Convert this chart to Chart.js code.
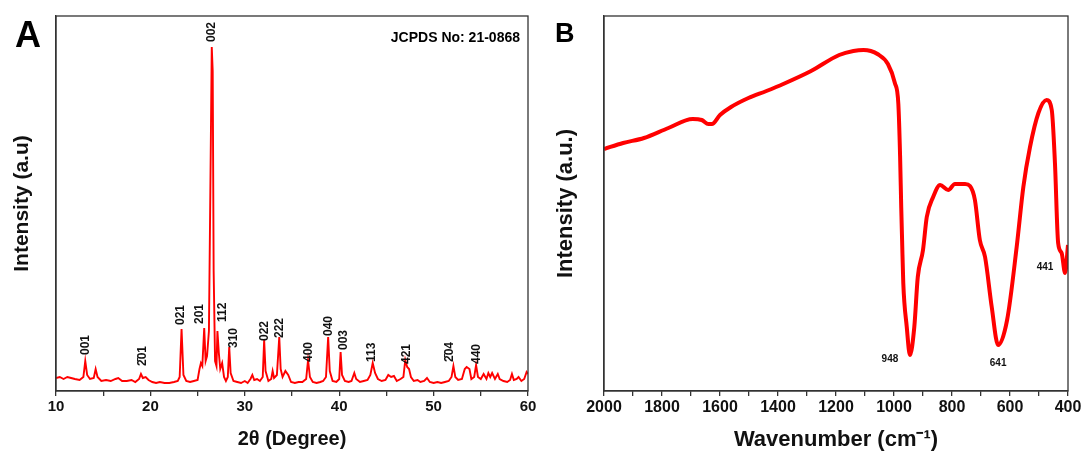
<!DOCTYPE html>
<html>
<head>
<meta charset="utf-8">
<script src="https://cdn.jsdelivr.net/npm/chart.js@4.4.1/dist/chart.umd.min.js"></script>
<style>
  body { margin: 0; background: #fff; width: 1086px; height: 464px; position: relative; overflow: hidden; }
  #boxA { position: absolute; left: 0; top: 0; width: 540px; height: 464px; }
  #boxB { position: absolute; left: 540px; top: 0; width: 546px; height: 464px; }
</style>
</head>
<body>
<div id="boxA"><canvas id="xrdChart" width="540" height="464"></canvas></div>
<div id="boxB"><canvas id="ftirChart" width="546" height="464"></canvas></div>
<script>
// ---- panel A : XRD pattern ----
const xrdTheta = [
  10.0, 10.4, 10.8, 11.2, 11.6, 12.0, 12.5, 12.9, 13.1, 13.3,
  13.6, 14.0, 14.2, 14.4, 14.8, 15.3, 15.8, 16.3, 16.6, 17.0,
  17.5, 18.0, 18.4, 18.8, 19.0, 19.2, 19.5, 19.8, 20.2, 20.6,
  21.0, 21.5, 22.0, 22.5, 22.9, 23.1, 23.3, 23.5, 23.8, 24.2,
  24.6, 25.0, 25.2, 25.35, 25.5, 25.7, 25.85, 26.0, 26.2, 26.35,
  26.5, 26.6, 26.7, 26.85, 27.0, 27.1, 27.25, 27.4, 27.6, 27.8,
  28.0, 28.2, 28.35, 28.5, 28.8, 29.2, 29.6, 30.0, 30.3, 30.6,
  30.8, 31.0, 31.3, 31.6, 31.9, 32.05, 32.2, 32.5, 32.8, 32.95,
  33.1, 33.4, 33.65, 33.8, 34.0, 34.3, 34.6, 34.9, 35.3, 35.7,
  36.1, 36.5, 36.7, 36.9, 37.2, 37.6, 38.0, 38.3, 38.6, 38.83,
  39.0, 39.3, 39.7, 40.0, 40.15, 40.3, 40.6, 41.0, 41.3, 41.6,
  41.8, 42.2, 42.6, 43.0, 43.3, 43.55, 43.8, 44.1, 44.5, 44.9,
  45.2, 45.5, 45.8, 46.1, 46.5, 46.8, 47.0, 47.2, 47.4, 47.6,
  47.9, 48.3, 48.6, 49.0, 49.3, 49.6, 50.0, 50.4, 50.8, 51.2,
  51.6, 51.9, 52.1, 52.3, 52.6, 53.0, 53.3, 53.5, 53.8, 54.0,
  54.3, 54.5, 54.7, 55.0, 55.3, 55.6, 55.8, 56.0, 56.2, 56.5,
  56.8, 57.0, 57.4, 57.8, 58.1, 58.3, 58.5, 58.8, 59.0, 59.3,
  59.6, 59.85, 60.0
];
const xrdIntensity = [
  13, 14, 12, 14, 13, 12, 11, 14, 30, 16,
  12, 13, 22, 14, 10, 11, 10, 12, 13, 10,
  10, 11, 9, 12, 17, 13, 14, 11, 9, 8,
  9, 8, 8, 9, 10, 14, 62, 16, 10, 9,
  10, 11, 22, 28, 25, 63, 30, 35, 60, 200,
  344, 320, 120, 30, 25, 60, 38, 22, 28, 14,
  10, 14, 44, 18, 10, 9, 8, 10, 8, 12,
  16, 11, 12, 10, 14, 51, 20, 10, 12, 20,
  13, 16, 54, 22, 14, 20, 16, 9, 8, 9,
  9, 12, 31, 14, 9, 8, 9, 10, 14, 54,
  20, 10, 9, 12, 39, 16, 10, 9, 10, 18,
  12, 9, 10, 11, 16, 28, 18, 12, 10, 11,
  16, 14, 15, 10, 12, 14, 31, 24, 22, 14,
  10, 11, 9, 10, 13, 9, 8, 9, 8, 9,
  10, 14, 25, 14, 11, 12, 22, 24, 22, 12,
  14, 26, 14, 12, 17, 12, 18, 14, 18, 12,
  17, 12, 10, 9, 11, 17, 11, 12, 14, 10,
  12, 19, 17
];
const hklText  = ['001', '2\u030401', '021', '201', '002', '112', '310', '022', '222', '400', '040', '003', '113', '421', '2\u030404', '440'];
const hklTheta = [13.18, 19.2, 23.24, 25.25, 26.5, 27.7, 28.85, 32.14, 33.73, 36.8, 38.9, 40.5, 43.47, 47.2, 51.74, 54.6];
const hklLevel = [36, 25, 66, 67, 349, 69, 43, 50, 53, 29, 55, 41, 29, 27, 29, 27];

// ---- panel B : FTIR spectrum ----
const ftirWave = [
  2000, 1934, 1862, 1778, 1694, 1663, 1640, 1628, 1600, 1562,
  1502, 1440, 1382, 1286, 1189, 1140, 1105, 1080, 1057, 1021,
  997, 985, 979, 975, 972, 968, 956, 945, 930, 918,
  900, 887, 865, 841, 813, 790, 755, 738, 721, 704,
  686, 663, 641, 610, 577, 554, 531, 502, 474, 456,
  445, 434, 422, 410, 400
];
const ftirSignal = [
  242, 248, 253, 263, 272, 271, 267, 267, 276, 284,
  293, 300, 307, 320, 336, 340, 341, 340, 337, 327,
  308, 287, 235, 183, 150, 108, 64, 36, 64, 114,
  141, 174, 194, 206, 201, 207, 207, 205, 191, 151,
  134, 84, 46, 71, 144, 204, 244, 278, 291, 281,
  228, 148, 138, 118, 146
];
const bandText = ['948', '641', '441'];
const bandWave = [1014, 641, 479];
const bandLevel = [32, 28, 124];

const FONT = '"Liberation Sans", Arial, sans-serif';
const AXIS = '#333';

const framePlugin = {
  id: 'frame',
  afterDraw(chart) {
    const { ctx, chartArea: a } = chart;
    ctx.save();
    ctx.strokeStyle = AXIS;
    ctx.lineWidth = 1.3;
    ctx.strokeRect(a.left, a.top, a.right - a.left, a.bottom - a.top);
    ctx.restore();
  }
};

function labelPlugin(id, texts, xs, ys, font, rotate) {
  return {
    id: id,
    afterDatasetsDraw(chart) {
      const { ctx, scales } = chart;
      ctx.save();
      ctx.fillStyle = '#111';
      ctx.font = font;
      texts.forEach((t, i) => {
        const px = scales.x.getPixelForValue(xs[i]);
        const py = scales.y.getPixelForValue(ys[i]);
        ctx.save();
        ctx.translate(px, py);
        if (rotate) {
          ctx.rotate(-Math.PI / 2);
          ctx.textAlign = 'left';
        } else {
          ctx.textAlign = 'center';
        }
        ctx.textBaseline = 'middle';
        ctx.fillText(t, 0, 0);
        ctx.restore();
      });
      ctx.restore();
    }
  };
}

function cornerText(id, items) {
  return {
    id: id,
    afterDraw(chart) {
      const ctx = chart.ctx;
      ctx.save();
      ctx.fillStyle = '#000';
      ctx.textBaseline = 'alphabetic';
      items.forEach(it => {
        ctx.font = it.font;
        ctx.textAlign = it.align;
        ctx.fillText(it.text, it.x, it.y);
      });
      ctx.restore();
    }
  };
}

function axisTitle(text, size, pad) {
  return { display: true, text: text, color: '#111', font: { family: FONT, size: size, weight: 'bold' }, padding: pad };
}

new Chart(document.getElementById('xrdChart'), {
  type: 'line',
  data: {
    datasets: [{
      data: xrdTheta.map((t, i) => ({ x: t, y: xrdIntensity[i] })),
      borderColor: '#ff0000',
      borderWidth: 1.9,
      pointRadius: 0,
      tension: 0,
      fill: false
    }]
  },
  options: {
    responsive: false,
    animation: false,
    events: [],
    layout: { padding: { left: 0, right: 12, top: 16, bottom: 0 } },
    plugins: { legend: { display: false }, tooltip: { enabled: false } },
    scales: {
      x: {
        type: 'linear', min: 10, max: 60,
        ticks: { stepSize: 5, padding: 2, color: '#111', maxRotation: 0, autoSkip: false,
                 font: { family: FONT, size: 15, weight: 'bold' },
                 callback: v => (v % 10 === 0 ? v : '') },
        grid: { drawOnChartArea: false, drawTicks: true, tickLength: 5, color: AXIS, lineWidth: 1.3 },
        border: { display: true, color: AXIS, width: 1.3 },
        title: axisTitle('2θ (Degree)', 20, { top: 0, bottom: 13 }),
        afterFit: s => { s.height = 73; }
      },
      y: {
        min: 0, max: 375,
        ticks: { display: false },
        grid: { display: false, drawTicks: false },
        border: { display: true, color: AXIS, width: 1.3 },
        title: axisTitle('Intensity (a.u)', 21, { top: 10, bottom: 0 }),
        afterFit: s => { s.width = 56; }
      }
    }
  },
  plugins: [
    framePlugin,
    labelPlugin('hkl', hklText, hklTheta, hklLevel, 'bold 12px ' + FONT, true),
    cornerText('tagA', [
      { text: 'A', x: 15, y: 46.5, font: 'bold 36px ' + FONT, align: 'left' },
      { text: 'JCPDS No: 21-0868', x: 520, y: 42, font: 'bold 14px ' + FONT, align: 'right' }
    ])
  ]
});

new Chart(document.getElementById('ftirChart'), {
  type: 'line',
  data: {
    datasets: [{
      data: ftirWave.map((w, i) => ({ x: w, y: ftirSignal[i] })),
      borderColor: '#ff0000',
      borderWidth: 4,
      pointRadius: 0,
      cubicInterpolationMode: 'monotone',
      fill: false
    }]
  },
  options: {
    responsive: false,
    animation: false,
    events: [],
    layout: { padding: { left: 0, right: 18, top: 16, bottom: 0 } },
    plugins: { legend: { display: false }, tooltip: { enabled: false } },
    scales: {
      x: {
        type: 'linear', min: 400, max: 2000, reverse: true,
        ticks: { stepSize: 100, padding: 2, color: '#111', maxRotation: 0, autoSkip: false,
                 font: { family: FONT, size: 16, weight: 'bold' },
                 callback: v => (v % 200 === 0 ? v : '') },
        grid: { drawOnChartArea: false, drawTicks: true, tickLength: 5, color: AXIS, lineWidth: 1.3 },
        border: { display: true, color: AXIS, width: 1.3 },
        title: axisTitle('Wavenumber (cm\u207B\u00B9)', 22, { top: 0, bottom: 11 }),
        afterFit: s => { s.height = 73; }
      },
      y: {
        min: 0, max: 375,
        ticks: { display: false },
        grid: { display: false, drawTicks: false },
        border: { display: true, color: AXIS, width: 1.3 },
        title: axisTitle('Intensity (a.u.)', 22, { top: 13, bottom: 0 }),
        afterFit: s => { s.width = 64; }
      }
    }
  },
  plugins: [
    framePlugin,
    labelPlugin('bands', bandText, bandWave, bandLevel, 'bold 10px ' + FONT, false),
    cornerText('tagB', [
      { text: 'B', x: 15, y: 41.5, font: 'bold 27px ' + FONT, align: 'left' }
    ])
  ]
});
</script>
</body>
</html>
